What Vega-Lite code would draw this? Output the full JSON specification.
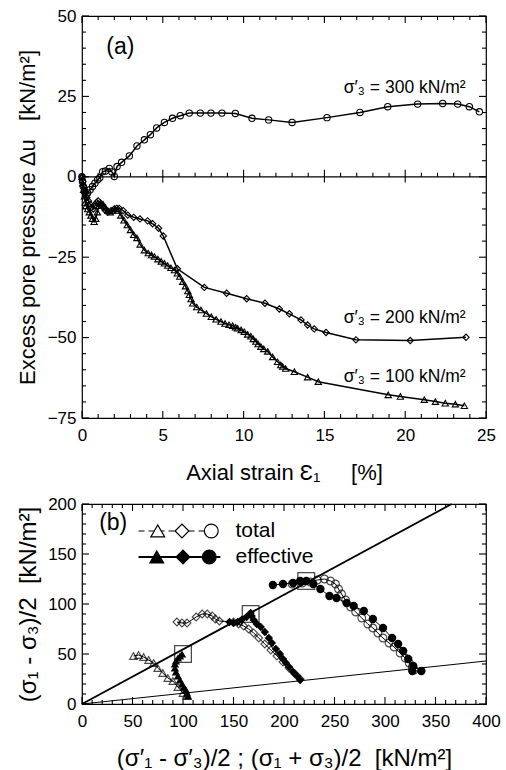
{
  "$schema": "https://vega.github.io/schema/vega-lite/v6.json",
  "padding": {"left": 15, "top": 6, "right": 12, "bottom": 0},
  "spacing": 10,
  "config": {
    "font": "Liberation Sans",
    "view": {"stroke": "black", "strokeWidth": 1.2},
    "axis": {"domain": false, "grid": false, "ticks": false, "tickSize": 0, "labelColor": "black", "titleColor": "black", "labelFont": "Liberation Sans", "titleFont": "Liberation Sans", "titleFontWeight": "normal", "labelFontSize": 17, "titleFontSize": 22, "labelFlush": false, "labelOverlap": false},
    "text": {"font": "Liberation Sans", "color": "black"},
    "rule": {"color": "black", "strokeWidth": 1}
  },
  "datasets": {
    "tickTopX": [
      {"x": 0, "y": -75, "e": "bottom", "k": "major"}, {"x": 1, "y": -75, "e": "bottom", "k": "minor"}, {"x": 2, "y": -75, "e": "bottom", "k": "minor"}, {"x": 3, "y": -75, "e": "bottom", "k": "minor"}, {"x": 4, "y": -75, "e": "bottom", "k": "minor"}, {"x": 5, "y": -75, "e": "bottom", "k": "major"}, {"x": 6, "y": -75, "e": "bottom", "k": "minor"}, {"x": 7, "y": -75, "e": "bottom", "k": "minor"}, {"x": 8, "y": -75, "e": "bottom", "k": "minor"}, {"x": 9, "y": -75, "e": "bottom", "k": "minor"}, {"x": 10, "y": -75, "e": "bottom", "k": "major"}, {"x": 11, "y": -75, "e": "bottom", "k": "minor"}, {"x": 12, "y": -75, "e": "bottom", "k": "minor"}, {"x": 13, "y": -75, "e": "bottom", "k": "minor"}, {"x": 14, "y": -75, "e": "bottom", "k": "minor"}, {"x": 15, "y": -75, "e": "bottom", "k": "major"}, {"x": 16, "y": -75, "e": "bottom", "k": "minor"}, {"x": 17, "y": -75, "e": "bottom", "k": "minor"}, {"x": 18, "y": -75, "e": "bottom", "k": "minor"}, {"x": 19, "y": -75, "e": "bottom", "k": "minor"}, {"x": 20, "y": -75, "e": "bottom", "k": "major"}, {"x": 21, "y": -75, "e": "bottom", "k": "minor"}, {"x": 22, "y": -75, "e": "bottom", "k": "minor"}, {"x": 23, "y": -75, "e": "bottom", "k": "minor"}, {"x": 24, "y": -75, "e": "bottom", "k": "minor"}, {"x": 25, "y": -75, "e": "bottom", "k": "major"},
      {"x": 0, "y": 50, "e": "top", "k": "major"}, {"x": 1, "y": 50, "e": "top", "k": "minor"}, {"x": 2, "y": 50, "e": "top", "k": "minor"}, {"x": 3, "y": 50, "e": "top", "k": "minor"}, {"x": 4, "y": 50, "e": "top", "k": "minor"}, {"x": 5, "y": 50, "e": "top", "k": "major"}, {"x": 6, "y": 50, "e": "top", "k": "minor"}, {"x": 7, "y": 50, "e": "top", "k": "minor"}, {"x": 8, "y": 50, "e": "top", "k": "minor"}, {"x": 9, "y": 50, "e": "top", "k": "minor"}, {"x": 10, "y": 50, "e": "top", "k": "major"}, {"x": 11, "y": 50, "e": "top", "k": "minor"}, {"x": 12, "y": 50, "e": "top", "k": "minor"}, {"x": 13, "y": 50, "e": "top", "k": "minor"}, {"x": 14, "y": 50, "e": "top", "k": "minor"}, {"x": 15, "y": 50, "e": "top", "k": "major"}, {"x": 16, "y": 50, "e": "top", "k": "minor"}, {"x": 17, "y": 50, "e": "top", "k": "minor"}, {"x": 18, "y": 50, "e": "top", "k": "minor"}, {"x": 19, "y": 50, "e": "top", "k": "minor"}, {"x": 20, "y": 50, "e": "top", "k": "major"}, {"x": 21, "y": 50, "e": "top", "k": "minor"}, {"x": 22, "y": 50, "e": "top", "k": "minor"}, {"x": 23, "y": 50, "e": "top", "k": "minor"}, {"x": 24, "y": 50, "e": "top", "k": "minor"}, {"x": 25, "y": 50, "e": "top", "k": "major"},
      {"x": 1, "y": 0, "e": "zero", "k": "minor"}, {"x": 2, "y": 0, "e": "zero", "k": "minor"}, {"x": 3, "y": 0, "e": "zero", "k": "minor"}, {"x": 4, "y": 0, "e": "zero", "k": "minor"}, {"x": 5, "y": 0, "e": "zero", "k": "major"}, {"x": 6, "y": 0, "e": "zero", "k": "minor"}, {"x": 7, "y": 0, "e": "zero", "k": "minor"}, {"x": 8, "y": 0, "e": "zero", "k": "minor"}, {"x": 9, "y": 0, "e": "zero", "k": "minor"}, {"x": 10, "y": 0, "e": "zero", "k": "major"}, {"x": 11, "y": 0, "e": "zero", "k": "minor"}, {"x": 12, "y": 0, "e": "zero", "k": "minor"}, {"x": 13, "y": 0, "e": "zero", "k": "minor"}, {"x": 14, "y": 0, "e": "zero", "k": "minor"}, {"x": 15, "y": 0, "e": "zero", "k": "major"}, {"x": 16, "y": 0, "e": "zero", "k": "minor"}, {"x": 17, "y": 0, "e": "zero", "k": "minor"}, {"x": 18, "y": 0, "e": "zero", "k": "minor"}, {"x": 19, "y": 0, "e": "zero", "k": "minor"}, {"x": 20, "y": 0, "e": "zero", "k": "major"}, {"x": 21, "y": 0, "e": "zero", "k": "minor"}, {"x": 22, "y": 0, "e": "zero", "k": "minor"}, {"x": 23, "y": 0, "e": "zero", "k": "minor"}, {"x": 24, "y": 0, "e": "zero", "k": "minor"}
    ],
    "tickTopY": [
      {"y": -75, "x": 0, "e": "left", "k": "major"}, {"y": -70, "x": 0, "e": "left", "k": "minor"}, {"y": -65, "x": 0, "e": "left", "k": "minor"}, {"y": -60, "x": 0, "e": "left", "k": "minor"}, {"y": -55, "x": 0, "e": "left", "k": "minor"}, {"y": -50, "x": 0, "e": "left", "k": "major"}, {"y": -45, "x": 0, "e": "left", "k": "minor"}, {"y": -40, "x": 0, "e": "left", "k": "minor"}, {"y": -35, "x": 0, "e": "left", "k": "minor"}, {"y": -30, "x": 0, "e": "left", "k": "minor"}, {"y": -25, "x": 0, "e": "left", "k": "major"}, {"y": -20, "x": 0, "e": "left", "k": "minor"}, {"y": -15, "x": 0, "e": "left", "k": "minor"}, {"y": -10, "x": 0, "e": "left", "k": "minor"}, {"y": -5, "x": 0, "e": "left", "k": "minor"}, {"y": 0, "x": 0, "e": "left", "k": "major"}, {"y": 5, "x": 0, "e": "left", "k": "minor"}, {"y": 10, "x": 0, "e": "left", "k": "minor"}, {"y": 15, "x": 0, "e": "left", "k": "minor"}, {"y": 20, "x": 0, "e": "left", "k": "minor"}, {"y": 25, "x": 0, "e": "left", "k": "major"}, {"y": 30, "x": 0, "e": "left", "k": "minor"}, {"y": 35, "x": 0, "e": "left", "k": "minor"}, {"y": 40, "x": 0, "e": "left", "k": "minor"}, {"y": 45, "x": 0, "e": "left", "k": "minor"}, {"y": 50, "x": 0, "e": "left", "k": "major"},
      {"y": -75, "x": 25, "e": "right", "k": "major"}, {"y": -70, "x": 25, "e": "right", "k": "minor"}, {"y": -65, "x": 25, "e": "right", "k": "minor"}, {"y": -60, "x": 25, "e": "right", "k": "minor"}, {"y": -55, "x": 25, "e": "right", "k": "minor"}, {"y": -50, "x": 25, "e": "right", "k": "major"}, {"y": -45, "x": 25, "e": "right", "k": "minor"}, {"y": -40, "x": 25, "e": "right", "k": "minor"}, {"y": -35, "x": 25, "e": "right", "k": "minor"}, {"y": -30, "x": 25, "e": "right", "k": "minor"}, {"y": -25, "x": 25, "e": "right", "k": "major"}, {"y": -20, "x": 25, "e": "right", "k": "minor"}, {"y": -15, "x": 25, "e": "right", "k": "minor"}, {"y": -10, "x": 25, "e": "right", "k": "minor"}, {"y": -5, "x": 25, "e": "right", "k": "minor"}, {"y": 0, "x": 25, "e": "right", "k": "major"}, {"y": 5, "x": 25, "e": "right", "k": "minor"}, {"y": 10, "x": 25, "e": "right", "k": "minor"}, {"y": 15, "x": 25, "e": "right", "k": "minor"}, {"y": 20, "x": 25, "e": "right", "k": "minor"}, {"y": 25, "x": 25, "e": "right", "k": "major"}, {"y": 30, "x": 25, "e": "right", "k": "minor"}, {"y": 35, "x": 25, "e": "right", "k": "minor"}, {"y": 40, "x": 25, "e": "right", "k": "minor"}, {"y": 45, "x": 25, "e": "right", "k": "minor"}, {"y": 50, "x": 25, "e": "right", "k": "major"}
    ],
    "tickBotX": [
      {"p": 0, "q": 0, "e": "bottom", "k": "major"}, {"p": 10, "q": 0, "e": "bottom", "k": "minor"}, {"p": 20, "q": 0, "e": "bottom", "k": "minor"}, {"p": 30, "q": 0, "e": "bottom", "k": "minor"}, {"p": 40, "q": 0, "e": "bottom", "k": "minor"}, {"p": 50, "q": 0, "e": "bottom", "k": "major"}, {"p": 60, "q": 0, "e": "bottom", "k": "minor"}, {"p": 70, "q": 0, "e": "bottom", "k": "minor"}, {"p": 80, "q": 0, "e": "bottom", "k": "minor"}, {"p": 90, "q": 0, "e": "bottom", "k": "minor"}, {"p": 100, "q": 0, "e": "bottom", "k": "major"}, {"p": 110, "q": 0, "e": "bottom", "k": "minor"}, {"p": 120, "q": 0, "e": "bottom", "k": "minor"}, {"p": 130, "q": 0, "e": "bottom", "k": "minor"}, {"p": 140, "q": 0, "e": "bottom", "k": "minor"}, {"p": 150, "q": 0, "e": "bottom", "k": "major"}, {"p": 160, "q": 0, "e": "bottom", "k": "minor"}, {"p": 170, "q": 0, "e": "bottom", "k": "minor"}, {"p": 180, "q": 0, "e": "bottom", "k": "minor"}, {"p": 190, "q": 0, "e": "bottom", "k": "minor"}, {"p": 200, "q": 0, "e": "bottom", "k": "major"}, {"p": 210, "q": 0, "e": "bottom", "k": "minor"}, {"p": 220, "q": 0, "e": "bottom", "k": "minor"}, {"p": 230, "q": 0, "e": "bottom", "k": "minor"}, {"p": 240, "q": 0, "e": "bottom", "k": "minor"}, {"p": 250, "q": 0, "e": "bottom", "k": "major"}, {"p": 260, "q": 0, "e": "bottom", "k": "minor"}, {"p": 270, "q": 0, "e": "bottom", "k": "minor"}, {"p": 280, "q": 0, "e": "bottom", "k": "minor"}, {"p": 290, "q": 0, "e": "bottom", "k": "minor"}, {"p": 300, "q": 0, "e": "bottom", "k": "major"}, {"p": 310, "q": 0, "e": "bottom", "k": "minor"}, {"p": 320, "q": 0, "e": "bottom", "k": "minor"}, {"p": 330, "q": 0, "e": "bottom", "k": "minor"}, {"p": 340, "q": 0, "e": "bottom", "k": "minor"}, {"p": 350, "q": 0, "e": "bottom", "k": "major"}, {"p": 360, "q": 0, "e": "bottom", "k": "minor"}, {"p": 370, "q": 0, "e": "bottom", "k": "minor"}, {"p": 380, "q": 0, "e": "bottom", "k": "minor"}, {"p": 390, "q": 0, "e": "bottom", "k": "minor"}, {"p": 400, "q": 0, "e": "bottom", "k": "major"},
      {"p": 0, "q": 200, "e": "top", "k": "major"}, {"p": 10, "q": 200, "e": "top", "k": "minor"}, {"p": 20, "q": 200, "e": "top", "k": "minor"}, {"p": 30, "q": 200, "e": "top", "k": "minor"}, {"p": 40, "q": 200, "e": "top", "k": "minor"}, {"p": 50, "q": 200, "e": "top", "k": "major"}, {"p": 60, "q": 200, "e": "top", "k": "minor"}, {"p": 70, "q": 200, "e": "top", "k": "minor"}, {"p": 80, "q": 200, "e": "top", "k": "minor"}, {"p": 90, "q": 200, "e": "top", "k": "minor"}, {"p": 100, "q": 200, "e": "top", "k": "major"}, {"p": 110, "q": 200, "e": "top", "k": "minor"}, {"p": 120, "q": 200, "e": "top", "k": "minor"}, {"p": 130, "q": 200, "e": "top", "k": "minor"}, {"p": 140, "q": 200, "e": "top", "k": "minor"}, {"p": 150, "q": 200, "e": "top", "k": "major"}, {"p": 160, "q": 200, "e": "top", "k": "minor"}, {"p": 170, "q": 200, "e": "top", "k": "minor"}, {"p": 180, "q": 200, "e": "top", "k": "minor"}, {"p": 190, "q": 200, "e": "top", "k": "minor"}, {"p": 200, "q": 200, "e": "top", "k": "major"}, {"p": 210, "q": 200, "e": "top", "k": "minor"}, {"p": 220, "q": 200, "e": "top", "k": "minor"}, {"p": 230, "q": 200, "e": "top", "k": "minor"}, {"p": 240, "q": 200, "e": "top", "k": "minor"}, {"p": 250, "q": 200, "e": "top", "k": "major"}, {"p": 260, "q": 200, "e": "top", "k": "minor"}, {"p": 270, "q": 200, "e": "top", "k": "minor"}, {"p": 280, "q": 200, "e": "top", "k": "minor"}, {"p": 290, "q": 200, "e": "top", "k": "minor"}, {"p": 300, "q": 200, "e": "top", "k": "major"}, {"p": 310, "q": 200, "e": "top", "k": "minor"}, {"p": 320, "q": 200, "e": "top", "k": "minor"}, {"p": 330, "q": 200, "e": "top", "k": "minor"}, {"p": 340, "q": 200, "e": "top", "k": "minor"}, {"p": 350, "q": 200, "e": "top", "k": "major"}, {"p": 360, "q": 200, "e": "top", "k": "minor"}, {"p": 370, "q": 200, "e": "top", "k": "minor"}, {"p": 380, "q": 200, "e": "top", "k": "minor"}, {"p": 390, "q": 200, "e": "top", "k": "minor"}, {"p": 400, "q": 200, "e": "top", "k": "major"}
    ],
    "tickBotY": [
      {"q": 0, "p": 0, "e": "left", "k": "major"}, {"q": 10, "p": 0, "e": "left", "k": "minor"}, {"q": 20, "p": 0, "e": "left", "k": "minor"}, {"q": 30, "p": 0, "e": "left", "k": "minor"}, {"q": 40, "p": 0, "e": "left", "k": "minor"}, {"q": 50, "p": 0, "e": "left", "k": "major"}, {"q": 60, "p": 0, "e": "left", "k": "minor"}, {"q": 70, "p": 0, "e": "left", "k": "minor"}, {"q": 80, "p": 0, "e": "left", "k": "minor"}, {"q": 90, "p": 0, "e": "left", "k": "minor"}, {"q": 100, "p": 0, "e": "left", "k": "major"}, {"q": 110, "p": 0, "e": "left", "k": "minor"}, {"q": 120, "p": 0, "e": "left", "k": "minor"}, {"q": 130, "p": 0, "e": "left", "k": "minor"}, {"q": 140, "p": 0, "e": "left", "k": "minor"}, {"q": 150, "p": 0, "e": "left", "k": "major"}, {"q": 160, "p": 0, "e": "left", "k": "minor"}, {"q": 170, "p": 0, "e": "left", "k": "minor"}, {"q": 180, "p": 0, "e": "left", "k": "minor"}, {"q": 190, "p": 0, "e": "left", "k": "minor"}, {"q": 200, "p": 0, "e": "left", "k": "major"},
      {"q": 0, "p": 400, "e": "right", "k": "major"}, {"q": 10, "p": 400, "e": "right", "k": "minor"}, {"q": 20, "p": 400, "e": "right", "k": "minor"}, {"q": 30, "p": 400, "e": "right", "k": "minor"}, {"q": 40, "p": 400, "e": "right", "k": "minor"}, {"q": 50, "p": 400, "e": "right", "k": "major"}, {"q": 60, "p": 400, "e": "right", "k": "minor"}, {"q": 70, "p": 400, "e": "right", "k": "minor"}, {"q": 80, "p": 400, "e": "right", "k": "minor"}, {"q": 90, "p": 400, "e": "right", "k": "minor"}, {"q": 100, "p": 400, "e": "right", "k": "major"}, {"q": 110, "p": 400, "e": "right", "k": "minor"}, {"q": 120, "p": 400, "e": "right", "k": "minor"}, {"q": 130, "p": 400, "e": "right", "k": "minor"}, {"q": 140, "p": 400, "e": "right", "k": "minor"}, {"q": 150, "p": 400, "e": "right", "k": "major"}, {"q": 160, "p": 400, "e": "right", "k": "minor"}, {"q": 170, "p": 400, "e": "right", "k": "minor"}, {"q": 180, "p": 400, "e": "right", "k": "minor"}, {"q": 190, "p": 400, "e": "right", "k": "minor"}, {"q": 200, "p": 400, "e": "right", "k": "major"}
    ],
    "du": [
      {"s": "100", "i": 0, "x": 0, "y": 0}, {"s": "100", "i": 1, "x": 0.05, "y": -2}, {"s": "100", "i": 2, "x": 0.1, "y": -4}, {"s": "100", "i": 3, "x": 0.15, "y": -6}, {"s": "100", "i": 4, "x": 0.2, "y": -8}, {"s": "100", "i": 5, "x": 0.25, "y": -9}, {"s": "100", "i": 6, "x": 0.35, "y": -10}, {"s": "100", "i": 7, "x": 0.45, "y": -11}, {"s": "100", "i": 8, "x": 0.55, "y": -12}, {"s": "100", "i": 9, "x": 0.65, "y": -13}, {"s": "100", "i": 10, "x": 0.75, "y": -14}, {"s": "100", "i": 11, "x": 0.85, "y": -13}, {"s": "100", "i": 12, "x": 0.95, "y": -11}, {"s": "100", "i": 13, "x": 1.05, "y": -9}, {"s": "100", "i": 14, "x": 1.15, "y": -8}, {"s": "100", "i": 15, "x": 1.3, "y": -8.5}, {"s": "100", "i": 16, "x": 1.45, "y": -9.5}, {"s": "100", "i": 17, "x": 1.6, "y": -10.5}, {"s": "100", "i": 18, "x": 1.75, "y": -11}, {"s": "100", "i": 19, "x": 1.9, "y": -10.5}, {"s": "100", "i": 20, "x": 2.05, "y": -10}, {"s": "100", "i": 21, "x": 2.2, "y": -10.5}, {"s": "100", "i": 22, "x": 2.4, "y": -12}, {"s": "100", "i": 23, "x": 2.6, "y": -13.5}, {"s": "100", "i": 24, "x": 2.8, "y": -15}, {"s": "100", "i": 25, "x": 3.0, "y": -16.5}, {"s": "100", "i": 26, "x": 3.2, "y": -18}, {"s": "100", "i": 27, "x": 3.4, "y": -19}, {"s": "100", "i": 28, "x": 3.6, "y": -21}, {"s": "100", "i": 29, "x": 3.86, "y": -22.8}, {"s": "100", "i": 30, "x": 4.1, "y": -23.7}, {"s": "100", "i": 31, "x": 4.3, "y": -24.3}, {"s": "100", "i": 32, "x": 4.48, "y": -24.8}, {"s": "100", "i": 33, "x": 4.7, "y": -25.6}, {"s": "100", "i": 34, "x": 4.9, "y": -26.3}, {"s": "100", "i": 35, "x": 5.1, "y": -26.9}, {"s": "100", "i": 36, "x": 5.3, "y": -27.6}, {"s": "100", "i": 37, "x": 5.5, "y": -28.3}, {"s": "100", "i": 38, "x": 5.72, "y": -29}, {"s": "100", "i": 39, "x": 5.9, "y": -30}, {"s": "100", "i": 40, "x": 6.05, "y": -31}, {"s": "100", "i": 41, "x": 6.23, "y": -32.6}, {"s": "100", "i": 42, "x": 6.4, "y": -34}, {"s": "100", "i": 43, "x": 6.55, "y": -35.5}, {"s": "100", "i": 44, "x": 6.64, "y": -36.7}, {"s": "100", "i": 45, "x": 6.75, "y": -38}, {"s": "100", "i": 46, "x": 6.85, "y": -39.3}, {"s": "100", "i": 47, "x": 7.1, "y": -40.5}, {"s": "100", "i": 48, "x": 7.36, "y": -41.4}, {"s": "100", "i": 49, "x": 7.7, "y": -42.5}, {"s": "100", "i": 50, "x": 8.0, "y": -43.5}, {"s": "100", "i": 51, "x": 8.3, "y": -44.3}, {"s": "100", "i": 52, "x": 8.6, "y": -45}, {"s": "100", "i": 53, "x": 8.85, "y": -45.6}, {"s": "100", "i": 54, "x": 9.1, "y": -46}, {"s": "100", "i": 55, "x": 9.32, "y": -46.3}, {"s": "100", "i": 56, "x": 9.5, "y": -46.8}, {"s": "100", "i": 57, "x": 9.63, "y": -47.1}, {"s": "100", "i": 58, "x": 9.85, "y": -47.6}, {"s": "100", "i": 59, "x": 10.04, "y": -48.2}, {"s": "100", "i": 60, "x": 10.25, "y": -49}, {"s": "100", "i": 61, "x": 10.45, "y": -49.6}, {"s": "100", "i": 62, "x": 10.6, "y": -50.4}, {"s": "100", "i": 63, "x": 10.76, "y": -51.2}, {"s": "100", "i": 64, "x": 10.9, "y": -52}, {"s": "100", "i": 65, "x": 11.07, "y": -52.8}, {"s": "100", "i": 66, "x": 11.25, "y": -53.5}, {"s": "100", "i": 67, "x": 11.49, "y": -54.3}, {"s": "100", "i": 68, "x": 11.8, "y": -56}, {"s": "100", "i": 69, "x": 12.1, "y": -57.5}, {"s": "100", "i": 70, "x": 12.3, "y": -58.5}, {"s": "100", "i": 71, "x": 12.42, "y": -59}, {"s": "100", "i": 72, "x": 12.6, "y": -59.6}, {"s": "100", "i": 73, "x": 13.14, "y": -60.6}, {"s": "100", "i": 74, "x": 13.96, "y": -62.3}, {"s": "100", "i": 75, "x": 14.62, "y": -63.7}, {"s": "100", "i": 76, "x": 18.95, "y": -67.8}, {"s": "100", "i": 77, "x": 19.7, "y": -68.3}, {"s": "100", "i": 78, "x": 21.18, "y": -69.3}, {"s": "100", "i": 79, "x": 21.87, "y": -69.9}, {"s": "100", "i": 80, "x": 22.48, "y": -70.4}, {"s": "100", "i": 81, "x": 23.1, "y": -70.7}, {"s": "100", "i": 82, "x": 23.66, "y": -71.2},
      {"s": "200", "i": 0, "x": 0, "y": 0}, {"s": "200", "i": 1, "x": 0.05, "y": -1.5}, {"s": "200", "i": 2, "x": 0.1, "y": -3}, {"s": "200", "i": 3, "x": 0.2, "y": -5}, {"s": "200", "i": 4, "x": 0.3, "y": -6.5}, {"s": "200", "i": 5, "x": 0.4, "y": -7.5}, {"s": "200", "i": 6, "x": 0.5, "y": -8.5}, {"s": "200", "i": 7, "x": 0.6, "y": -9.5}, {"s": "200", "i": 8, "x": 0.7, "y": -10}, {"s": "200", "i": 9, "x": 0.8, "y": -9}, {"s": "200", "i": 10, "x": 0.9, "y": -8}, {"s": "200", "i": 11, "x": 1.0, "y": -7.5}, {"s": "200", "i": 12, "x": 1.15, "y": -8.5}, {"s": "200", "i": 13, "x": 1.3, "y": -9.5}, {"s": "200", "i": 14, "x": 1.45, "y": -10.5}, {"s": "200", "i": 15, "x": 1.6, "y": -11}, {"s": "200", "i": 16, "x": 1.8, "y": -10.5}, {"s": "200", "i": 17, "x": 2.0, "y": -10}, {"s": "200", "i": 18, "x": 2.15, "y": -9.8}, {"s": "200", "i": 19, "x": 2.3, "y": -9.8}, {"s": "200", "i": 20, "x": 2.55, "y": -10.5}, {"s": "200", "i": 21, "x": 2.83, "y": -11.9}, {"s": "200", "i": 22, "x": 3.2, "y": -12.6}, {"s": "200", "i": 23, "x": 3.59, "y": -13.1}, {"s": "200", "i": 24, "x": 4.06, "y": -13.7}, {"s": "200", "i": 25, "x": 4.37, "y": -14.6}, {"s": "200", "i": 26, "x": 4.74, "y": -16.0}, {"s": "200", "i": 27, "x": 5.03, "y": -18.4}, {"s": "200", "i": 28, "x": 5.9, "y": -28.6}, {"s": "200", "i": 29, "x": 7.57, "y": -34.4}, {"s": "200", "i": 30, "x": 8.95, "y": -36.2}, {"s": "200", "i": 31, "x": 10.19, "y": -37.9}, {"s": "200", "i": 32, "x": 11.32, "y": -39.3}, {"s": "200", "i": 33, "x": 12.21, "y": -41.1}, {"s": "200", "i": 34, "x": 12.83, "y": -42.6}, {"s": "200", "i": 35, "x": 13.55, "y": -44.5}, {"s": "200", "i": 36, "x": 13.96, "y": -46.1}, {"s": "200", "i": 37, "x": 14.37, "y": -47.3}, {"s": "200", "i": 38, "x": 15.1, "y": -48.4}, {"s": "200", "i": 39, "x": 16.95, "y": -50.7}, {"s": "200", "i": 40, "x": 20.31, "y": -50.9}, {"s": "200", "i": 41, "x": 23.76, "y": -49.9},
      {"s": "300", "i": 0, "x": 0, "y": 0}, {"s": "300", "i": 1, "x": 0.03, "y": -1.5}, {"s": "300", "i": 2, "x": 0.08, "y": -3}, {"s": "300", "i": 3, "x": 0.15, "y": -4.5}, {"s": "300", "i": 4, "x": 0.25, "y": -5.5}, {"s": "300", "i": 5, "x": 0.35, "y": -5}, {"s": "300", "i": 6, "x": 0.5, "y": -4}, {"s": "300", "i": 7, "x": 0.65, "y": -3}, {"s": "300", "i": 8, "x": 0.8, "y": -2}, {"s": "300", "i": 9, "x": 0.97, "y": -0.9}, {"s": "300", "i": 10, "x": 1.1, "y": -0.3}, {"s": "300", "i": 11, "x": 1.28, "y": 1.6}, {"s": "300", "i": 12, "x": 1.45, "y": 1.8}, {"s": "300", "i": 13, "x": 1.69, "y": 2.6}, {"s": "300", "i": 14, "x": 1.85, "y": 1.5}, {"s": "300", "i": 15, "x": 2.0, "y": 0.1}, {"s": "300", "i": 16, "x": 2.17, "y": 3.2}, {"s": "300", "i": 17, "x": 2.45, "y": 4.5}, {"s": "300", "i": 18, "x": 2.93, "y": 6.5}, {"s": "300", "i": 19, "x": 3.4, "y": 9.6}, {"s": "300", "i": 20, "x": 3.86, "y": 11.5}, {"s": "300", "i": 21, "x": 4.23, "y": 13.1}, {"s": "300", "i": 22, "x": 4.62, "y": 15.2}, {"s": "300", "i": 23, "x": 5.1, "y": 16.9}, {"s": "300", "i": 24, "x": 5.6, "y": 18.2}, {"s": "300", "i": 25, "x": 6.08, "y": 19.0}, {"s": "300", "i": 26, "x": 6.64, "y": 19.8}, {"s": "300", "i": 27, "x": 7.32, "y": 19.8}, {"s": "300", "i": 28, "x": 7.98, "y": 19.8}, {"s": "300", "i": 29, "x": 8.66, "y": 19.8}, {"s": "300", "i": 30, "x": 9.49, "y": 19.7}, {"s": "300", "i": 31, "x": 10.52, "y": 18.2}, {"s": "300", "i": 32, "x": 11.55, "y": 17.7}, {"s": "300", "i": 33, "x": 13.0, "y": 16.9}, {"s": "300", "i": 34, "x": 15.16, "y": 18.4}, {"s": "300", "i": 35, "x": 17.2, "y": 20.0}, {"s": "300", "i": 36, "x": 18.92, "y": 21.8}, {"s": "300", "i": 37, "x": 20.77, "y": 22.6}, {"s": "300", "i": 38, "x": 22.32, "y": 22.8}, {"s": "300", "i": 39, "x": 23.25, "y": 22.6}, {"s": "300", "i": 40, "x": 23.97, "y": 21.8}, {"s": "300", "i": 41, "x": 24.59, "y": 20.2}
    ],
    "toplabels": [
      {"x": 16.2, "y": 27.5, "t": "σ′₃ = 300 kN/m²"},
      {"x": 16.2, "y": -43.8, "t": "σ′₃ = 200 kN/m²"},
      {"x": 16.2, "y": -62.4, "t": "σ′₃ = 100 kN/m²"}
    ],
    "toptag": [{"x": 1.5, "y": 40.4, "t": "(a)"}],
    "paths": [
      {"test": "100", "kind": "total", "i": 0, "p": 104, "q": 8}, {"test": "100", "kind": "total", "i": 1, "p": 100, "q": 11}, {"test": "100", "kind": "total", "i": 2, "p": 95, "q": 17}, {"test": "100", "kind": "total", "i": 3, "p": 90, "q": 23}, {"test": "100", "kind": "total", "i": 4, "p": 85, "q": 26}, {"test": "100", "kind": "total", "i": 5, "p": 80, "q": 31}, {"test": "100", "kind": "total", "i": 6, "p": 75, "q": 36}, {"test": "100", "kind": "total", "i": 7, "p": 71, "q": 41}, {"test": "100", "kind": "total", "i": 8, "p": 66, "q": 44}, {"test": "100", "kind": "total", "i": 9, "p": 61, "q": 47}, {"test": "100", "kind": "total", "i": 10, "p": 56, "q": 49}, {"test": "100", "kind": "total", "i": 11, "p": 51, "q": 48},
      {"test": "100", "kind": "effective", "i": 0, "p": 105, "q": 8}, {"test": "100", "kind": "effective", "i": 1, "p": 104, "q": 11}, {"test": "100", "kind": "effective", "i": 2, "p": 103, "q": 14}, {"test": "100", "kind": "effective", "i": 3, "p": 101, "q": 17}, {"test": "100", "kind": "effective", "i": 4, "p": 99, "q": 20}, {"test": "100", "kind": "effective", "i": 5, "p": 97, "q": 24}, {"test": "100", "kind": "effective", "i": 6, "p": 95, "q": 28}, {"test": "100", "kind": "effective", "i": 7, "p": 93, "q": 32}, {"test": "100", "kind": "effective", "i": 8, "p": 92, "q": 36}, {"test": "100", "kind": "effective", "i": 9, "p": 92, "q": 40}, {"test": "100", "kind": "effective", "i": 10, "p": 93, "q": 43}, {"test": "100", "kind": "effective", "i": 11, "p": 95, "q": 46}, {"test": "100", "kind": "effective", "i": 12, "p": 97, "q": 48}, {"test": "100", "kind": "effective", "i": 13, "p": 99, "q": 50},
      {"test": "200", "kind": "total", "i": 0, "p": 216, "q": 25}, {"test": "200", "kind": "total", "i": 1, "p": 211, "q": 30}, {"test": "200", "kind": "total", "i": 2, "p": 205, "q": 36}, {"test": "200", "kind": "total", "i": 3, "p": 199, "q": 42}, {"test": "200", "kind": "total", "i": 4, "p": 193, "q": 48}, {"test": "200", "kind": "total", "i": 5, "p": 187, "q": 54}, {"test": "200", "kind": "total", "i": 6, "p": 181, "q": 60}, {"test": "200", "kind": "total", "i": 7, "p": 175, "q": 66}, {"test": "200", "kind": "total", "i": 8, "p": 170, "q": 71}, {"test": "200", "kind": "total", "i": 9, "p": 165, "q": 75}, {"test": "200", "kind": "total", "i": 10, "p": 160, "q": 78}, {"test": "200", "kind": "total", "i": 11, "p": 155, "q": 80}, {"test": "200", "kind": "total", "i": 12, "p": 150, "q": 82}, {"test": "200", "kind": "total", "i": 13, "p": 136, "q": 83}, {"test": "200", "kind": "total", "i": 14, "p": 132, "q": 85}, {"test": "200", "kind": "total", "i": 15, "p": 129, "q": 88}, {"test": "200", "kind": "total", "i": 16, "p": 124, "q": 90}, {"test": "200", "kind": "total", "i": 17, "p": 119, "q": 90}, {"test": "200", "kind": "total", "i": 18, "p": 113, "q": 87}, {"test": "200", "kind": "total", "i": 19, "p": 104, "q": 81}, {"test": "200", "kind": "total", "i": 20, "p": 99, "q": 81}, {"test": "200", "kind": "total", "i": 21, "p": 94, "q": 82},
      {"test": "200", "kind": "effective", "i": 0, "p": 216, "q": 24}, {"test": "200", "kind": "effective", "i": 1, "p": 213, "q": 28}, {"test": "200", "kind": "effective", "i": 2, "p": 209, "q": 32}, {"test": "200", "kind": "effective", "i": 3, "p": 205, "q": 37}, {"test": "200", "kind": "effective", "i": 4, "p": 202, "q": 41}, {"test": "200", "kind": "effective", "i": 5, "p": 199, "q": 45}, {"test": "200", "kind": "effective", "i": 6, "p": 196, "q": 50}, {"test": "200", "kind": "effective", "i": 7, "p": 192, "q": 55}, {"test": "200", "kind": "effective", "i": 8, "p": 188, "q": 61}, {"test": "200", "kind": "effective", "i": 9, "p": 185, "q": 66}, {"test": "200", "kind": "effective", "i": 10, "p": 181, "q": 72}, {"test": "200", "kind": "effective", "i": 11, "p": 177, "q": 77}, {"test": "200", "kind": "effective", "i": 12, "p": 173, "q": 80}, {"test": "200", "kind": "effective", "i": 13, "p": 170, "q": 84}, {"test": "200", "kind": "effective", "i": 14, "p": 168, "q": 88}, {"test": "200", "kind": "effective", "i": 15, "p": 167, "q": 91}, {"test": "200", "kind": "effective", "i": 16, "p": 163, "q": 87}, {"test": "200", "kind": "effective", "i": 17, "p": 158, "q": 84}, {"test": "200", "kind": "effective", "i": 18, "p": 154, "q": 82}, {"test": "200", "kind": "effective", "i": 19, "p": 150, "q": 81}, {"test": "200", "kind": "effective", "i": 20, "p": 146, "q": 82},
      {"test": "300", "kind": "total", "i": 0, "p": 329, "q": 34}, {"test": "300", "kind": "total", "i": 1, "p": 327, "q": 37}, {"test": "300", "kind": "total", "i": 2, "p": 324, "q": 41}, {"test": "300", "kind": "total", "i": 3, "p": 320, "q": 46}, {"test": "300", "kind": "total", "i": 4, "p": 315, "q": 51}, {"test": "300", "kind": "total", "i": 5, "p": 309, "q": 57}, {"test": "300", "kind": "total", "i": 6, "p": 304, "q": 61}, {"test": "300", "kind": "total", "i": 7, "p": 298, "q": 66}, {"test": "300", "kind": "total", "i": 8, "p": 293, "q": 71}, {"test": "300", "kind": "total", "i": 9, "p": 288, "q": 76}, {"test": "300", "kind": "total", "i": 10, "p": 283, "q": 80}, {"test": "300", "kind": "total", "i": 11, "p": 277, "q": 86}, {"test": "300", "kind": "total", "i": 12, "p": 271, "q": 92}, {"test": "300", "kind": "total", "i": 13, "p": 266, "q": 97}, {"test": "300", "kind": "total", "i": 14, "p": 261, "q": 104}, {"test": "300", "kind": "total", "i": 15, "p": 257, "q": 110}, {"test": "300", "kind": "total", "i": 16, "p": 254, "q": 115}, {"test": "300", "kind": "total", "i": 17, "p": 251, "q": 120}, {"test": "300", "kind": "total", "i": 18, "p": 246, "q": 123}, {"test": "300", "kind": "total", "i": 19, "p": 240, "q": 125}, {"test": "300", "kind": "total", "i": 20, "p": 233, "q": 124}, {"test": "300", "kind": "total", "i": 21, "p": 226, "q": 122}, {"test": "300", "kind": "total", "i": 22, "p": 218, "q": 121}, {"test": "300", "kind": "total", "i": 23, "p": 208, "q": 120},
      {"test": "300", "kind": "effective", "i": 0, "p": 336, "q": 33}, {"test": "300", "kind": "effective", "i": 1, "p": 327, "q": 33}, {"test": "300", "kind": "effective", "i": 2, "p": 328, "q": 38}, {"test": "300", "kind": "effective", "i": 3, "p": 323, "q": 45}, {"test": "300", "kind": "effective", "i": 4, "p": 318, "q": 53}, {"test": "300", "kind": "effective", "i": 5, "p": 313, "q": 60}, {"test": "300", "kind": "effective", "i": 6, "p": 307, "q": 66}, {"test": "300", "kind": "effective", "i": 7, "p": 298, "q": 76}, {"test": "300", "kind": "effective", "i": 8, "p": 288, "q": 85}, {"test": "300", "kind": "effective", "i": 9, "p": 279, "q": 93}, {"test": "300", "kind": "effective", "i": 10, "p": 269, "q": 98}, {"test": "300", "kind": "effective", "i": 11, "p": 262, "q": 101}, {"test": "300", "kind": "effective", "i": 12, "p": 252, "q": 106}, {"test": "300", "kind": "effective", "i": 13, "p": 245, "q": 108}, {"test": "300", "kind": "effective", "i": 14, "p": 236, "q": 115}, {"test": "300", "kind": "effective", "i": 15, "p": 229, "q": 120}, {"test": "300", "kind": "effective", "i": 16, "p": 222, "q": 123}, {"test": "300", "kind": "effective", "i": 17, "p": 216, "q": 123}, {"test": "300", "kind": "effective", "i": 18, "p": 209, "q": 121}, {"test": "300", "kind": "effective", "i": 19, "p": 199, "q": 120}, {"test": "300", "kind": "effective", "i": 20, "p": 189, "q": 119}
    ],
    "kf": [
      {"line": "failure", "p": 0, "q": 0}, {"line": "failure", "p": 366, "q": 200},
      {"line": "lower", "p": 0, "q": 0}, {"line": "lower", "p": 400, "q": 43}
    ],
    "peaks": [{"p": 100, "q": 50}, {"p": 167, "q": 90}, {"p": 222, "q": 123}],
    "legline": [
      {"row": "total", "p": 56, "q": 173}, {"row": "total", "p": 128, "q": 173},
      {"row": "effective", "p": 56, "q": 147}, {"row": "effective", "p": 137, "q": 147}
    ],
    "legpts": [
      {"row": "total", "test": "100", "p": 75, "q": 173}, {"row": "total", "test": "200", "p": 99, "q": 173}, {"row": "total", "test": "300", "p": 128, "q": 173},
      {"row": "effective", "test": "100", "p": 74, "q": 147}, {"row": "effective", "test": "200", "p": 100, "q": 147}, {"row": "effective", "test": "300", "p": 126, "q": 147}
    ],
    "legtext": [
      {"p": 152, "q": 173, "t": "total"}, {"p": 152, "q": 147, "t": "effective"}
    ],
    "btag": [{"p": 17, "q": 181, "t": "(b)"}]
  },
  "vconcat": [
    {
      "width": 404,
      "height": 402,
      "resolve": {"axis": {"x": "independent", "y": "independent"}},
      "layer": [
        {"data": {"name": "toptag"}, "mark": {"type": "rule", "strokeWidth": 1.2},
         "encoding": {"y": {"datum": 0, "axis": null}}},
        {
          "data": {"name": "du"},
          "mark": {"type": "line", "color": "black", "strokeWidth": 1.5},
          "encoding": {
            "x": {"field": "x", "type": "quantitative", "scale": {"domain": [0, 25], "nice": false, "zero": false},
              "axis": {"orient": "bottom", "values": [0, 5, 10, 15, 20, 25], "labelPadding": 9, "title": "\u00a0\u00a0Axial strain Ɛ₁\u00a0\u00a0\u00a0\u00a0\u00a0[%]", "titlePadding": 19}},
            "y": {"field": "y", "type": "quantitative", "scale": {"domain": [-75, 50], "nice": false, "zero": false},
              "axis": {"orient": "left", "values": [-75, -50, -25, 0, 25, 50], "labelPadding": 6, "title": "\u00a0\u00a0\u00a0\u00a0\u00a0\u00a0\u00a0\u00a0\u00a0Excess pore pressure Δu\u00a0\u00a0\u00a0[kN/m²]", "titlePadding": 8}},
            "detail": {"field": "s"},
            "order": {"field": "i"}
          }
        },
        {
          "data": {"name": "du"},
          "mark": {"type": "point", "filled": false, "stroke": "black", "strokeWidth": 1.1, "opacity": 1},
          "encoding": {
            "x": {"field": "x", "type": "quantitative", "axis": null},
            "y": {"field": "y", "type": "quantitative", "axis": null},
            "shape": {"field": "s", "type": "nominal", "scale": {"domain": ["100", "200", "300"], "range": ["triangle-up", "diamond", "circle"]}, "legend": null},
            "size": {"field": "s", "type": "nominal", "scale": {"domain": ["100", "200", "300"], "range": [40, 40, 52]}, "legend": null}
          }
        },
        {"data": {"name": "tickTopX"}, "transform": [{"filter": "datum.e === 'bottom' && datum.k === 'major'"}],
         "mark": {"type": "point", "shape": "M0,0L0,-1", "size": 196, "filled": false, "stroke": "black", "strokeWidth": 1.1, "opacity": 1},
         "encoding": {"x": {"field": "x", "type": "quantitative", "axis": null}, "y": {"field": "y", "type": "quantitative", "axis": null}}},
        {"data": {"name": "tickTopX"}, "transform": [{"filter": "datum.e === 'bottom' && datum.k === 'minor'"}],
         "mark": {"type": "point", "shape": "M0,0L0,-1", "size": 64, "filled": false, "stroke": "black", "strokeWidth": 1.1, "opacity": 1},
         "encoding": {"x": {"field": "x", "type": "quantitative", "axis": null}, "y": {"field": "y", "type": "quantitative", "axis": null}}},
        {"data": {"name": "tickTopX"}, "transform": [{"filter": "datum.e === 'top' && datum.k === 'major'"}],
         "mark": {"type": "point", "shape": "M0,0L0,1", "size": 196, "filled": false, "stroke": "black", "strokeWidth": 1.1, "opacity": 1},
         "encoding": {"x": {"field": "x", "type": "quantitative", "axis": null}, "y": {"field": "y", "type": "quantitative", "axis": null}}},
        {"data": {"name": "tickTopX"}, "transform": [{"filter": "datum.e === 'top' && datum.k === 'minor'"}],
         "mark": {"type": "point", "shape": "M0,0L0,1", "size": 64, "filled": false, "stroke": "black", "strokeWidth": 1.1, "opacity": 1},
         "encoding": {"x": {"field": "x", "type": "quantitative", "axis": null}, "y": {"field": "y", "type": "quantitative", "axis": null}}},
        {"data": {"name": "tickTopX"}, "transform": [{"filter": "datum.e === 'zero' && datum.k === 'major'"}],
         "mark": {"type": "point", "shape": "M0,0.8L0,-1", "size": 196, "filled": false, "stroke": "black", "strokeWidth": 1.1, "opacity": 1},
         "encoding": {"x": {"field": "x", "type": "quantitative", "axis": null}, "y": {"field": "y", "type": "quantitative", "axis": null}}},
        {"data": {"name": "tickTopX"}, "transform": [{"filter": "datum.e === 'zero' && datum.k === 'minor'"}],
         "mark": {"type": "point", "shape": "M0,0L0,-1", "size": 64, "filled": false, "stroke": "black", "strokeWidth": 1.1, "opacity": 1},
         "encoding": {"x": {"field": "x", "type": "quantitative", "axis": null}, "y": {"field": "y", "type": "quantitative", "axis": null}}},
        {"data": {"name": "tickTopY"}, "transform": [{"filter": "datum.e === 'left' && datum.k === 'major'"}],
         "mark": {"type": "point", "shape": "M0,0L1,0", "size": 196, "filled": false, "stroke": "black", "strokeWidth": 1.1, "opacity": 1},
         "encoding": {"x": {"field": "x", "type": "quantitative", "axis": null}, "y": {"field": "y", "type": "quantitative", "axis": null}}},
        {"data": {"name": "tickTopY"}, "transform": [{"filter": "datum.e === 'left' && datum.k === 'minor'"}],
         "mark": {"type": "point", "shape": "M0,0L1,0", "size": 64, "filled": false, "stroke": "black", "strokeWidth": 1.1, "opacity": 1},
         "encoding": {"x": {"field": "x", "type": "quantitative", "axis": null}, "y": {"field": "y", "type": "quantitative", "axis": null}}},
        {"data": {"name": "tickTopY"}, "transform": [{"filter": "datum.e === 'right' && datum.k === 'major'"}],
         "mark": {"type": "point", "shape": "M0,0L-1,0", "size": 196, "filled": false, "stroke": "black", "strokeWidth": 1.1, "opacity": 1},
         "encoding": {"x": {"field": "x", "type": "quantitative", "axis": null}, "y": {"field": "y", "type": "quantitative", "axis": null}}},
        {"data": {"name": "tickTopY"}, "transform": [{"filter": "datum.e === 'right' && datum.k === 'minor'"}],
         "mark": {"type": "point", "shape": "M0,0L-1,0", "size": 64, "filled": false, "stroke": "black", "strokeWidth": 1.1, "opacity": 1},
         "encoding": {"x": {"field": "x", "type": "quantitative", "axis": null}, "y": {"field": "y", "type": "quantitative", "axis": null}}},
        {
          "data": {"name": "toplabels"},
          "mark": {"type": "text", "align": "left", "baseline": "middle", "fontSize": 17.5},
          "encoding": {
            "x": {"field": "x", "type": "quantitative", "axis": null},
            "y": {"field": "y", "type": "quantitative", "axis": null},
            "text": {"field": "t"}
          }
        },
        {
          "data": {"name": "toptag"},
          "mark": {"type": "text", "align": "left", "baseline": "middle", "fontSize": 23},
          "encoding": {
            "x": {"field": "x", "type": "quantitative", "axis": null},
            "y": {"field": "y", "type": "quantitative", "axis": null},
            "text": {"field": "t"}
          }
        }
      ]
    },
    {
      "width": 404,
      "height": 200,
      "resolve": {"axis": {"x": "independent", "y": "independent"}, "scale": {"strokeWidth": "independent", "strokeDash": "independent"}},
      "layer": [
        {
          "data": {"name": "kf"},
          "mark": {"type": "line", "color": "black"},
          "encoding": {
            "x": {"field": "p", "type": "quantitative", "scale": {"domain": [0, 400], "nice": false, "zero": false},
              "axis": {"orient": "bottom", "values": [0, 50, 100, 150, 200, 250, 300, 350, 400], "labelPadding": 9, "title": "(σ′₁ - σ′₃)/2 ; (σ₁ + σ₃)/2\u00a0\u00a0[kN/m²]", "titleFontSize": 24, "titlePadding": 17}},
            "y": {"field": "q", "type": "quantitative", "scale": {"domain": [0, 200], "nice": false, "zero": false},
              "axis": {"orient": "left", "values": [0, 50, 100, 150, 200], "labelPadding": 6, "title": "(σ₁ - σ₃)/2\u00a0\u00a0[kN/m²]\u00a0\u00a0\u00a0\u00a0\u00a0", "titleFontSize": 24, "titlePadding": 7}},
            "detail": {"field": "line"},
            "strokeWidth": {"field": "line", "type": "nominal", "scale": {"domain": ["failure", "lower"], "range": [1.8, 1]}, "legend": null}
          }
        },
        {
          "data": {"name": "paths"},
          "mark": {"type": "line", "color": "black", "strokeWidth": 1},
          "encoding": {
            "x": {"field": "p", "type": "quantitative", "axis": null},
            "y": {"field": "q", "type": "quantitative", "axis": null},
            "detail": [{"field": "test"}, {"field": "kind"}],
            "order": {"field": "i"}
          }
        },
        {
          "data": {"name": "paths"},
          "transform": [{"filter": "datum.kind === 'total'"}],
          "mark": {"type": "point", "filled": false, "stroke": "black", "strokeWidth": 1.1, "size": 60},
          "encoding": {
            "x": {"field": "p", "type": "quantitative", "axis": null},
            "y": {"field": "q", "type": "quantitative", "axis": null},
            "shape": {"field": "test", "type": "nominal", "scale": {"domain": ["100", "200", "300"], "range": ["triangle-up", "diamond", "circle"]}, "legend": null}
          }
        },
        {
          "data": {"name": "paths"},
          "transform": [{"filter": "datum.kind === 'effective'"}],
          "mark": {"type": "point", "filled": true, "color": "black", "opacity": 1, "size": 70},
          "encoding": {
            "x": {"field": "p", "type": "quantitative", "axis": null},
            "y": {"field": "q", "type": "quantitative", "axis": null},
            "shape": {"field": "test", "type": "nominal", "scale": {"domain": ["100", "200", "300"], "range": ["triangle-up", "diamond", "circle"]}, "legend": null}
          }
        },
        {
          "data": {"name": "peaks"},
          "mark": {"type": "square", "filled": false, "stroke": "black", "strokeWidth": 1.3, "size": 280},
          "encoding": {
            "x": {"field": "p", "type": "quantitative", "axis": null},
            "y": {"field": "q", "type": "quantitative", "axis": null}
          }
        },
        {"data": {"name": "tickBotX"}, "transform": [{"filter": "datum.e === 'bottom' && datum.k === 'major'"}],
         "mark": {"type": "point", "shape": "M0,0L0,-1", "size": 196, "filled": false, "stroke": "black", "strokeWidth": 1.1, "opacity": 1},
         "encoding": {"x": {"field": "p", "type": "quantitative", "axis": null}, "y": {"field": "q", "type": "quantitative", "axis": null}}},
        {"data": {"name": "tickBotX"}, "transform": [{"filter": "datum.e === 'bottom' && datum.k === 'minor'"}],
         "mark": {"type": "point", "shape": "M0,0L0,-1", "size": 64, "filled": false, "stroke": "black", "strokeWidth": 1.1, "opacity": 1},
         "encoding": {"x": {"field": "p", "type": "quantitative", "axis": null}, "y": {"field": "q", "type": "quantitative", "axis": null}}},
        {"data": {"name": "tickBotX"}, "transform": [{"filter": "datum.e === 'top' && datum.k === 'major'"}],
         "mark": {"type": "point", "shape": "M0,0L0,1", "size": 196, "filled": false, "stroke": "black", "strokeWidth": 1.1, "opacity": 1},
         "encoding": {"x": {"field": "p", "type": "quantitative", "axis": null}, "y": {"field": "q", "type": "quantitative", "axis": null}}},
        {"data": {"name": "tickBotX"}, "transform": [{"filter": "datum.e === 'top' && datum.k === 'minor'"}],
         "mark": {"type": "point", "shape": "M0,0L0,1", "size": 64, "filled": false, "stroke": "black", "strokeWidth": 1.1, "opacity": 1},
         "encoding": {"x": {"field": "p", "type": "quantitative", "axis": null}, "y": {"field": "q", "type": "quantitative", "axis": null}}},
        {"data": {"name": "tickBotY"}, "transform": [{"filter": "datum.e === 'left' && datum.k === 'major'"}],
         "mark": {"type": "point", "shape": "M0,0L1,0", "size": 196, "filled": false, "stroke": "black", "strokeWidth": 1.1, "opacity": 1},
         "encoding": {"x": {"field": "p", "type": "quantitative", "axis": null}, "y": {"field": "q", "type": "quantitative", "axis": null}}},
        {"data": {"name": "tickBotY"}, "transform": [{"filter": "datum.e === 'left' && datum.k === 'minor'"}],
         "mark": {"type": "point", "shape": "M0,0L1,0", "size": 64, "filled": false, "stroke": "black", "strokeWidth": 1.1, "opacity": 1},
         "encoding": {"x": {"field": "p", "type": "quantitative", "axis": null}, "y": {"field": "q", "type": "quantitative", "axis": null}}},
        {"data": {"name": "tickBotY"}, "transform": [{"filter": "datum.e === 'right' && datum.k === 'major'"}],
         "mark": {"type": "point", "shape": "M0,0L-1,0", "size": 196, "filled": false, "stroke": "black", "strokeWidth": 1.1, "opacity": 1},
         "encoding": {"x": {"field": "p", "type": "quantitative", "axis": null}, "y": {"field": "q", "type": "quantitative", "axis": null}}},
        {"data": {"name": "tickBotY"}, "transform": [{"filter": "datum.e === 'right' && datum.k === 'minor'"}],
         "mark": {"type": "point", "shape": "M0,0L-1,0", "size": 64, "filled": false, "stroke": "black", "strokeWidth": 1.1, "opacity": 1},
         "encoding": {"x": {"field": "p", "type": "quantitative", "axis": null}, "y": {"field": "q", "type": "quantitative", "axis": null}}},
        {
          "data": {"name": "legline"},
          "mark": {"type": "line", "color": "black"},
          "encoding": {
            "x": {"field": "p", "type": "quantitative", "axis": null},
            "y": {"field": "q", "type": "quantitative", "axis": null},
            "detail": {"field": "row"},
            "strokeDash": {"field": "row", "type": "nominal", "scale": {"domain": ["total", "effective"], "range": [[6, 4], [1, 0]]}, "legend": null},
            "strokeWidth": {"field": "row", "type": "nominal", "scale": {"domain": ["total", "effective"], "range": [1, 1.8]}, "legend": null}
          }
        },
        {
          "data": {"name": "legpts"},
          "mark": {"type": "point", "filled": true, "stroke": "black", "strokeWidth": 1.2, "opacity": 1, "size": 190},
          "encoding": {
            "x": {"field": "p", "type": "quantitative", "axis": null},
            "y": {"field": "q", "type": "quantitative", "axis": null},
            "shape": {"field": "test", "type": "nominal", "scale": {"domain": ["100", "200", "300"], "range": ["triangle-up", "diamond", "circle"]}, "legend": null},
            "fill": {"field": "row", "type": "nominal", "scale": {"domain": ["total", "effective"], "range": ["white", "black"]}, "legend": null}
          }
        },
        {
          "data": {"name": "legtext"},
          "mark": {"type": "text", "align": "left", "baseline": "middle", "fontSize": 21},
          "encoding": {
            "x": {"field": "p", "type": "quantitative", "axis": null},
            "y": {"field": "q", "type": "quantitative", "axis": null},
            "text": {"field": "t"}
          }
        },
        {
          "data": {"name": "btag"},
          "mark": {"type": "text", "align": "left", "baseline": "middle", "fontSize": 23},
          "encoding": {
            "x": {"field": "p", "type": "quantitative", "axis": null},
            "y": {"field": "q", "type": "quantitative", "axis": null},
            "text": {"field": "t"}
          }
        }
      ]
    }
  ]
}
